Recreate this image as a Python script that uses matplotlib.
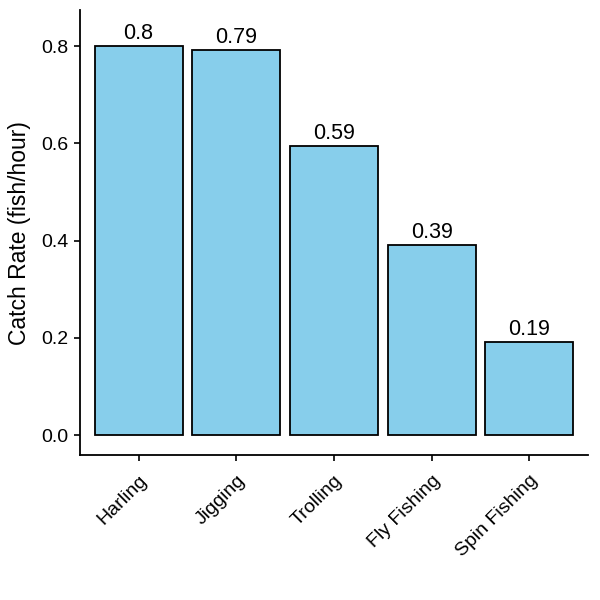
import matplotlib
matplotlib.use("Agg")
import matplotlib.pyplot as plt

# catch rate per fishing method
methods = ["Harling", "Jigging", "Trolling", "Fly Fishing", "Spin Fishing"]
catch_rate = [0.80, 0.792, 0.595, 0.391, 0.191]
rate_labels = ["0.8", "0.79", "0.59", "0.39", "0.19"]
y_ticks = [0.0, 0.2, 0.4, 0.6, 0.8]

plt.rcParams['font.family'] = ['Liberation Sans', 'DejaVu Sans']

fig = plt.figure(figsize=(6, 6), dpi=100)
ax = fig.add_axes([0.1333, 0.2417, 0.8467, 0.7413])

xpos = list(range(1, len(methods) + 1))
ax.bar(xpos, catch_rate, width=0.9, color="#87CEEB", edgecolor="black", linewidth=1.3)

for x, v, lab in zip(xpos, catch_rate, rate_labels):
    ax.text(x, v + 0.004, lab, ha="center", va="bottom", fontsize=15.5, color="black")

ax.set_xlim(0.4, 5.6)
ax.set_ylim(-0.041, 0.874)
ax.set_xticks(xpos)
ax.set_xticklabels(methods, rotation=45, ha="right", va="top", rotation_mode="anchor", fontsize=14)
ax.set_yticks(y_ticks)
ax.set_yticklabels([f"{t:.1f}" for t in y_ticks], fontsize=14)
ax.set_ylabel("Catch Rate (fish/hour)", fontsize=16.5, labelpad=8)

for side in ["top", "right"]:
    ax.spines[side].set_visible(False)
for side in ["left", "bottom"]:
    ax.spines[side].set_linewidth(1.3)
ax.tick_params(length=4, width=1.2, colors="black", labelcolor="black")
ax.tick_params(axis="x", pad=8)
ax.tick_params(axis="y", pad=4)

fig.savefig("out.png", dpi=100)
